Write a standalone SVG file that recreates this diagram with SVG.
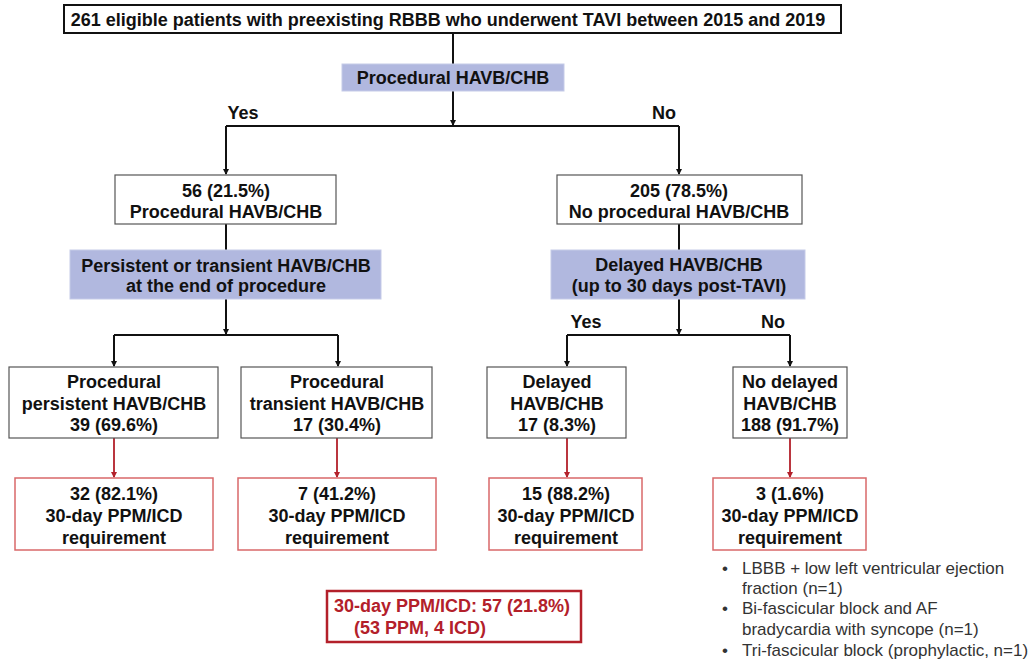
<svg xmlns="http://www.w3.org/2000/svg" width="1030" height="661" viewBox="0 0 1030 661">
<style>
text{font-family:"Liberation Sans",Arial,sans-serif;font-weight:bold;font-size:18px;fill:#111;text-anchor:middle}
.box{fill:#fff;stroke:#555;stroke-width:1.2}
.top{fill:#fff;stroke:#111;stroke-width:2}
.q{fill:#b1b8df;stroke:#c5cbe8;stroke-width:1}
.rbox{fill:#fff;stroke:#d9686a;stroke-width:1.5}
.tot{fill:#fff;stroke:#b3202a;stroke-width:2.5}
.tt{fill:#b3202a;text-anchor:start}
.bl{font-weight:normal;font-size:17px;fill:#333;text-anchor:start}
.c{fill:none;stroke:#111;stroke-width:2}
.r{fill:none;stroke:#b3202a;stroke-width:1.8}
</style>
<defs>
<marker id="ak" markerWidth="6" markerHeight="6" refX="5" refY="3" orient="auto" markerUnits="userSpaceOnUse"><path d="M0,0L6,3L0,6Z" fill="#111"/></marker>
<marker id="ar" markerWidth="6" markerHeight="6" refX="5" refY="3" orient="auto" markerUnits="userSpaceOnUse"><path d="M0,0L6,3L0,6Z" fill="#b3202a"/></marker>
</defs>
<rect width="1030" height="661" fill="#fff"/>
<g id="connectors">
<path class="c" d="M453,33V64"/>
<path class="c" d="M453,91V125" marker-end="url(#ak)"/>
<path class="c" d="M226,126H679"/>
<path class="c" d="M226,126V174" marker-end="url(#ak)"/>
<path class="c" d="M679,126V174" marker-end="url(#ak)"/>
<path class="c" d="M226,224V250"/>
<path class="c" d="M226,299V334" marker-end="url(#ak)"/>
<path class="c" d="M114,335H338"/>
<path class="c" d="M114,335V366" marker-end="url(#ak)"/>
<path class="c" d="M338,335V366" marker-end="url(#ak)"/>
<path class="c" d="M679,224V250"/>
<path class="c" d="M679,299V334" marker-end="url(#ak)"/>
<path class="c" d="M567,335H790"/>
<path class="c" d="M567,335V366" marker-end="url(#ak)"/>
<path class="c" d="M790,335V366" marker-end="url(#ak)"/>
<path class="r" d="M114,438V477" marker-end="url(#ar)"/>
<path class="r" d="M337,438V477" marker-end="url(#ar)"/>
<path class="r" d="M567,438V477" marker-end="url(#ar)"/>
<path class="r" d="M790,438V477" marker-end="url(#ar)"/>
<text x="243" y="119">Yes</text>
<text x="664" y="119">No</text>
<text x="586" y="328">Yes</text>
<text x="773" y="328">No</text>
</g>
<g id="n-top"><rect class="top" x="64" y="5" width="777" height="28"/><text x="448" y="26">261 eligible patients with preexisting RBBB who underwent TAVI between 2015 and 2019</text></g>
<g id="q-procedural"><rect class="q" x="342" y="64" width="222" height="27"/><text x="453" y="84">Procedural HAVB/CHB</text></g>
<g id="n-proc"><rect class="box" x="115" y="175" width="221" height="49"/><text x="226" y="197">56 (21.5%)</text><text x="226" y="218">Procedural HAVB/CHB</text></g>
<g id="n-noproc"><rect class="box" x="557" y="175" width="245" height="49"/><text x="679" y="197">205 (78.5%)</text><text x="679" y="218">No procedural HAVB/CHB</text></g>
<g id="q-persist"><rect class="q" x="70" y="250" width="311" height="49"/><text x="226" y="272">Persistent or transient HAVB/CHB</text><text x="226" y="292">at the end of procedure</text></g>
<g id="q-delayed"><rect class="q" x="551" y="250" width="254" height="49"/><text x="679" y="271">Delayed HAVB/CHB</text><text x="679" y="292">(up to 30 days post-TAVI)</text></g>
<g id="n-persist"><rect class="box" x="9" y="367" width="209" height="71"/><text x="114" y="388">Procedural</text><text x="114" y="410">persistent HAVB/CHB</text><text x="114" y="431">39 (69.6%)</text></g>
<g id="n-transient"><rect class="box" x="241" y="367" width="191" height="71"/><text x="337" y="388">Procedural</text><text x="337" y="410">transient HAVB/CHB</text><text x="337" y="431">17 (30.4%)</text></g>
<g id="n-delayed"><rect class="box" x="487" y="367" width="139" height="71"/><text x="557" y="388">Delayed</text><text x="557" y="410">HAVB/CHB</text><text x="557" y="431">17 (8.3%)</text></g>
<g id="n-nodelayed"><rect class="box" x="733" y="367" width="114" height="71"/><text x="790" y="388">No delayed</text><text x="790" y="410">HAVB/CHB</text><text x="790" y="431">188 (91.7%)</text></g>
<g id="r1"><rect class="rbox" x="15" y="478" width="198" height="72"/><text x="114" y="500">32 (82.1%)</text><text x="114" y="522">30-day PPM/ICD</text><text x="114" y="544">requirement</text></g>
<g id="r2"><rect class="rbox" x="238" y="478" width="198" height="72"/><text x="337" y="500">7 (41.2%)</text><text x="337" y="522">30-day PPM/ICD</text><text x="337" y="544">requirement</text></g>
<g id="r3"><rect class="rbox" x="489" y="478" width="153" height="72"/><text x="566" y="500">15 (88.2%)</text><text x="566" y="522">30-day PPM/ICD</text><text x="566" y="544">requirement</text></g>
<g id="r4"><rect class="rbox" x="713" y="478" width="153" height="72"/><text x="790" y="500">3 (1.6%)</text><text x="790" y="522">30-day PPM/ICD</text><text x="790" y="544">requirement</text></g>
<g id="total"><rect class="tot" x="327" y="591" width="254" height="51"/><text class="tt" x="334" y="612">30-day PPM/ICD: 57 (21.8%)</text><text class="tt" x="354" y="634">(53 PPM, 4 ICD)</text></g>
<g id="notes">
<text class="bl" x="722" y="574">•</text><text class="bl" x="742" y="574">LBBB + low left ventricular ejection</text>
<text class="bl" x="742" y="594">fraction (n=1)</text>
<text class="bl" x="722" y="614">•</text><text class="bl" x="742" y="614">Bi-fascicular block and AF</text>
<text class="bl" x="742" y="635">bradycardia with syncope (n=1)</text>
<text class="bl" x="722" y="656">•</text><text class="bl" x="742" y="656">Tri-fascicular block (prophylactic, n=1)</text>
</g>
</svg>
